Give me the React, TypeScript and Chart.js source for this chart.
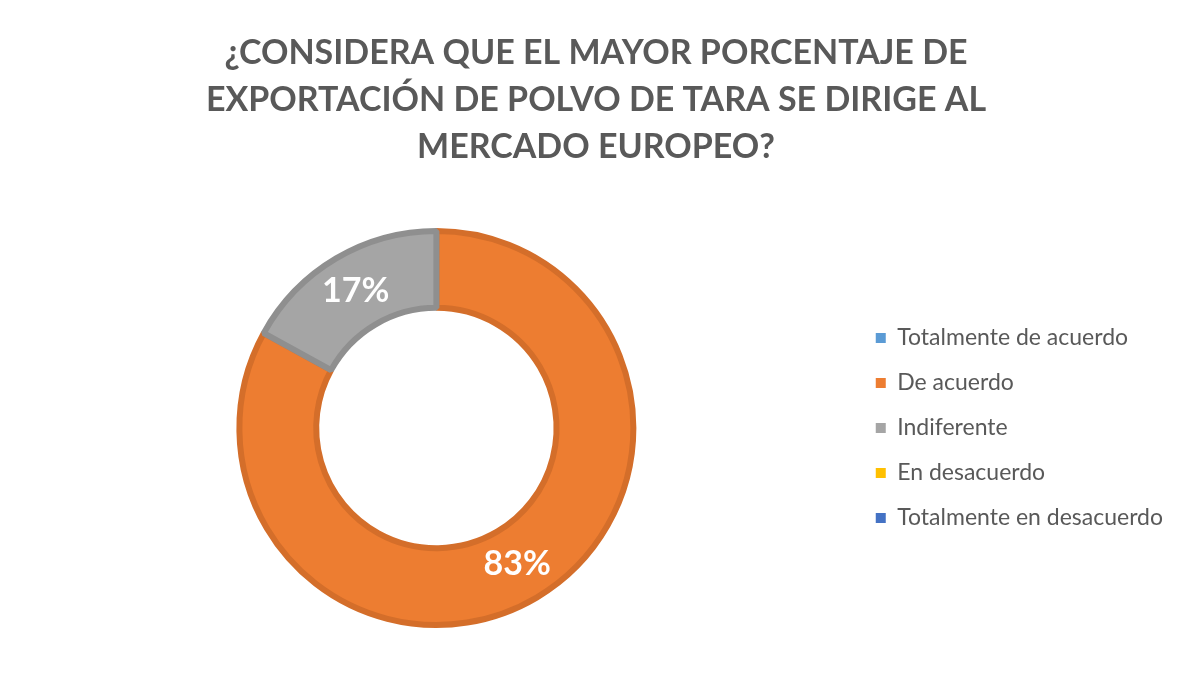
import React, { useEffect, useRef } from "react";
import { Chart, registerables } from "chart.js";

Chart.register(...registerables);

const titleLines = [
  "¿CONSIDERA QUE EL MAYOR PORCENTAJE DE",
  "EXPORTACIÓN DE POLVO DE TARA SE DIRIGE AL",
  "MERCADO EUROPEO?",
];
const categories = [
  "Totalmente de acuerdo",
  "De acuerdo",
  "Indiferente",
  "En desacuerdo",
  "Totalmente en desacuerdo",
];
const values = [0, 83, 17, 0, 0];
const fillColors = ["#5B9BD5", "#ED7D31", "#A5A5A5", "#FFC000", "#4472C4"];
const borderColors = ["#4E88BD", "#D46E2A", "#8F8F8F", "#E0A800", "#3C64AC"];

const FONT = "Lato, 'Open Sans', sans-serif";

const labelPlugin = {
  id: "sliceLabels",
  afterDatasetsDraw(chart: any) {
    const ctx = chart.ctx;
    const meta = chart.getDatasetMeta(0);
    const data = chart.data.datasets[0].data as number[];
    const total = data.reduce((a, b) => a + b, 0);
    ctx.save();
    ctx.fillStyle = "#FFFFFF";
    ctx.font = `bold 34px ${FONT}`;
    ctx.textAlign = "center";
    ctx.textBaseline = "middle";
    meta.data.forEach((arc: any, i: number) => {
      const v = data[i];
      if (!v) return;
      const p = arc.tooltipPosition();
      ctx.fillText(Math.round((v / total) * 100) + "%", p.x, p.y);
    });
    ctx.restore();
  },
};

export default function App() {
  const ref = useRef<HTMLCanvasElement>(null);
  useEffect(() => {
    if (!ref.current) return;
    const chart = new Chart(ref.current, {
      type: "doughnut",
      data: {
        labels: categories,
        datasets: [
          {
            data: values,
            backgroundColor: fillColors,
            borderColor: borderColors,
            borderWidth: 6,
            hoverOffset: 0,
          },
        ],
      },
      options: {
        responsive: false,
        animation: false,
        cutout: "61%",
        layout: { padding: { left: 11, right: 3, top: 0, bottom: 48 } },
        plugins: {
          tooltip: { enabled: false },
          title: {
            display: true,
            text: titleLines,
            color: "#595959",
            font: { family: FONT, size: 34, weight: "bold", lineHeight: "47px" as any },
            padding: { top: 22, bottom: 57 },
          },
          legend: {
            position: "right",
            fullSize: false,
            labels: {
              color: "#595959",
              font: { family: FONT, size: 23 },
              boxWidth: 10,
              boxHeight: 10,
              padding: 22,
              generateLabels: () =>
                categories.map((c, i) => ({
                  text: c,
                  fillStyle: fillColors[i],
                  strokeStyle: fillColors[i],
                  lineWidth: 0,
                  hidden: false,
                  index: i,
                  fontColor: "#595959",
                })),
            },
          },
        },
      },
      plugins: [labelPlugin],
    });
    return () => chart.destroy();
  }, []);
  return (
    <div
      style={{
        margin: "-1px 0 0 -1px",
        borderTop: "1px solid #D9D9D9",
        borderLeft: "1px solid #D9D9D9",
        width: 1168,
        height: 668,
        background: "#fff",
      }}
    >
      <canvas ref={ref} width={1168} height={668} style={{ display: "block" }} />
    </div>
  );
}
